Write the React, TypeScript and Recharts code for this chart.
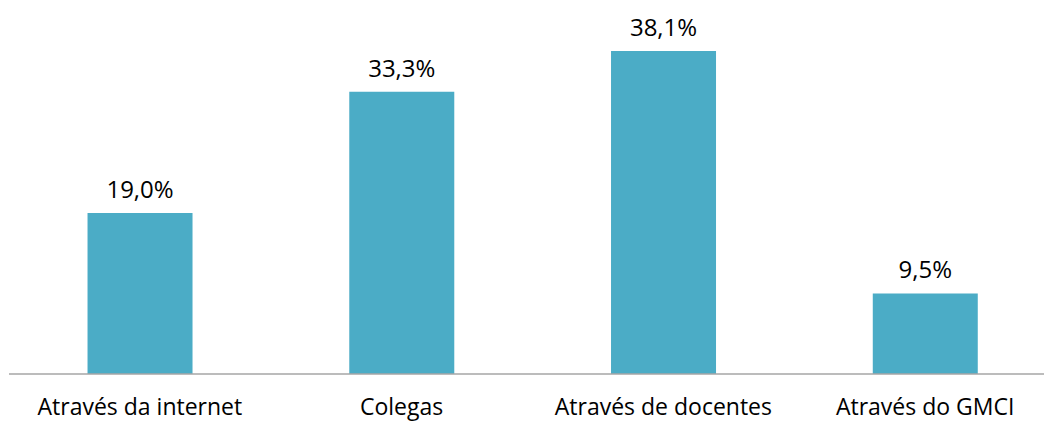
import { Bar, BarChart, LabelList, XAxis, YAxis } from "recharts";

const categories = [
    "Através da internet",
    "Colegas",
    "Através de docentes",
    "Através do GMCI",
];
const percents = [19.0, 33.3, 38.1, 9.5];
const yTicks = [0, 10, 20, 30, 40];

const FONT = "'Open Sans', sans-serif";

const chartData = categories.map((name, i) => ({ name, value: percents[i] }));

function fmt(v: number): string {
    return `${v.toFixed(1).replace(".", ",")}%`;
}

function ValueLabel(props: any) {
    const { x, y, width, value } = props;
    return (
        <text
            x={x + width / 2}
            y={y - 15}
            textAnchor="middle"
            fill="#000"
            fontSize={24}
            fontFamily={FONT}
        >
            {fmt(value)}
        </text>
    );
}

function CategoryTick(props: any) {
    const { x, payload } = props;
    // baseline kept a fixed distance under the axis line (y = 374)
    return (
        <text
            x={x}
            y={415}
            textAnchor="middle"
            fill="#000"
            fontSize={23}
            fontFamily={FONT}
        >
            {payload.value}
        </text>
    );
}

export default function App() {
    return (
        <div
            style={{
                position: "absolute",
                left: 0,
                top: 0,
                width: 1044,
                height: 421,
                overflow: "hidden",
                background: "#fff",
            }}
        >
            <BarChart
                width={1056}
                height={421}
                data={chartData}
                margin={{ top: 35, right: 0, left: 9, bottom: 0 }}
                barCategoryGap="30%"
            >
                <YAxis hide domain={[0, 40]} ticks={yTicks} />
                <XAxis
                    dataKey="name"
                    height={47}
                    axisLine={{ stroke: "#a6a6a6", strokeWidth: 1.5 }}
                    tickLine={false}
                    tick={<CategoryTick />}
                    interval={0}
                />
                <Bar dataKey="value" fill="#4bacc6" isAnimationActive={false}>
                    <LabelList dataKey="value" content={<ValueLabel />} />
                </Bar>
            </BarChart>
        </div>
    );
}
